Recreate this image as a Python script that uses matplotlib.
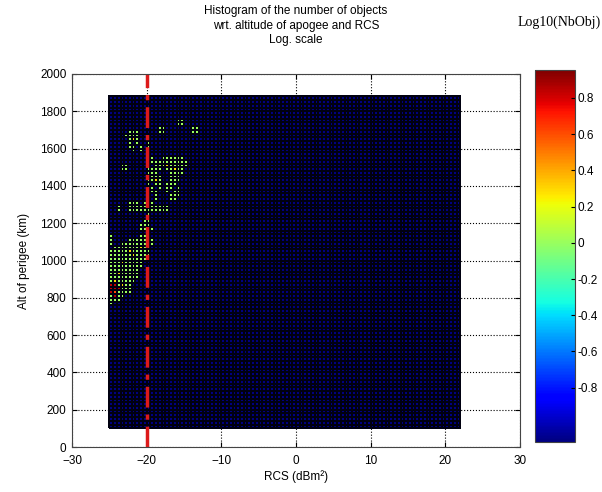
import numpy as np
import matplotlib.pyplot as plt
from matplotlib.colors import Normalize

plt.rcParams["font.family"] = ["Liberation Sans", "DejaVu Sans"]

# histogram bins
rcs_edges = np.arange(-25, 22.5, 0.5)      # dBm2
alt_edges = np.arange(100, 1900, 20)       # km

# occupied cells, one row per 20 km starting at 1760 km (top),
# one char per 0.5 dBm2 starting at -25 dBm2
pattern_top = 1760
pattern = [
    "..................gg....",
    "..................gg....",
    ".............gg.......gg",
    ".....ggg.....gg.......gg",
    "....gggg..g.............",
    ".....gyg..g.............",
    ".....g.g..g.............",
    ".....gg.g.g.............",
    "......g.g.g.............",
    "..........g.............",
    "..........gg..gggggg....",
    "..........ggggggggggg...",
    "...gg.....g.gggyggggg...",
    "...gg.....gggg.ggygg....",
    "..........ggg...gggg....",
    "..........gggg..ggg.....",
    "..........ggyg..ggg.....",
    "..........g.gg.ggg......",
    "..........gg.g.gg.g.....",
    "..........ggg..g.gg.....",
    "..........g.g...ggg.....",
    "..........g.g...gg......",
    ".....ggg.ggg............",
    "..g..gggggyggggg........",
    "..g..ggggggggggg........",
    "..........g.............",
    "..........g.............",
    ".........gg.............",
    "........ggg.............",
    "........gg.g............",
    "..........g.............",
    "g.......ggg.............",
    "g....ggggggg............",
    "g..ggggggggg............",
    ".gggggggygg.............",
    "gggggyggggg.............",
    "ggggggygggg.............",
    "gggggggggg..............",
    "gggyggggg...............",
    "ggggggggg...............",
    "gggggggg................",
    "ggyggggg................",
    "gggggggg................",
    "gyggggg.................",
    "rrgygg..................",
    "rrrggg..................",
    "rogggg..................",
    "grgg....................",
    "ggg.....................",
    "g.......................",
]
levels = {".": 0, "g": 1, "y": 2, "o": 4, "r": 7}

vmin, vmax = -1.1, np.log10(9)

counts = np.zeros((len(alt_edges) - 1, len(rcs_edges) - 1))
for r, row in enumerate(pattern):
    i = int((pattern_top - 20 * (r + 1) - alt_edges[0]) // 20)
    for j, ch in enumerate(row):
        counts[i, j] = levels[ch]
logc = np.full(counts.shape, vmin)
logc[counts > 0] = np.log10(counts[counts > 0])

fig = plt.figure(figsize=(6.02, 4.92), dpi=100)
ax = fig.add_axes([72 / 602, 45 / 492, 448 / 602, 373 / 492])

mesh = ax.pcolormesh(rcs_edges, alt_edges, logc, cmap="jet",
                     norm=Normalize(vmin, vmax), edgecolors="#000010", linewidth=0.3)
ax.axvline(-20, color="#dd1a1a", lw=2.5, dashes=(6, 2, 1.5, 2))

ax.set_xlim(-30, 30)
ax.set_ylim(0, 2000)
ax.set_xticks(range(-30, 31, 10))
ax.set_yticks(range(0, 2001, 200))
ax.set_axisbelow(True)
ax.grid(True, ls=":", color="black", lw=0.8)
ax.tick_params(direction="in", top=True, right=True, labelsize=8.5, pad=4)
ax.tick_params(axis="x", pad=6)
for s in ax.spines.values():
    s.set_color("#444444")
ax.set_xlabel("RCS (dBm²)", fontsize=8.5, labelpad=2)
ax.set_ylabel("Alt of perigee (km)", fontsize=8.5, labelpad=7)

fig.text(296 / 602, 1 - 5 / 492,
         "Histogram of the number of objects\nwrt. altitude of apogee and RCS\nLog. scale",
         ha="center", va="top", fontsize=8.5, linespacing=1.3)

cax = fig.add_axes([535 / 602, 50 / 492, 40 / 602, 372 / 492])
cb = fig.colorbar(mesh, cax=cax, ticks=np.arange(-0.8, 0.81, 0.2))
cb.set_ticklabels(["-0.8", "-0.6", "-0.4", "-0.2", "0", "0.2", "0.4", "0.6", "0.8"])
cb.ax.tick_params(direction="in", labelsize=8.5, pad=2, length=3)
cb.outline.set_edgecolor("#444444")
fig.text(559 / 602, 1 - 22 / 492, "Log10(NbObj)", ha="center", va="center",
         fontsize=10, family="Liberation Serif")

fig.savefig("out.png", dpi=100)
